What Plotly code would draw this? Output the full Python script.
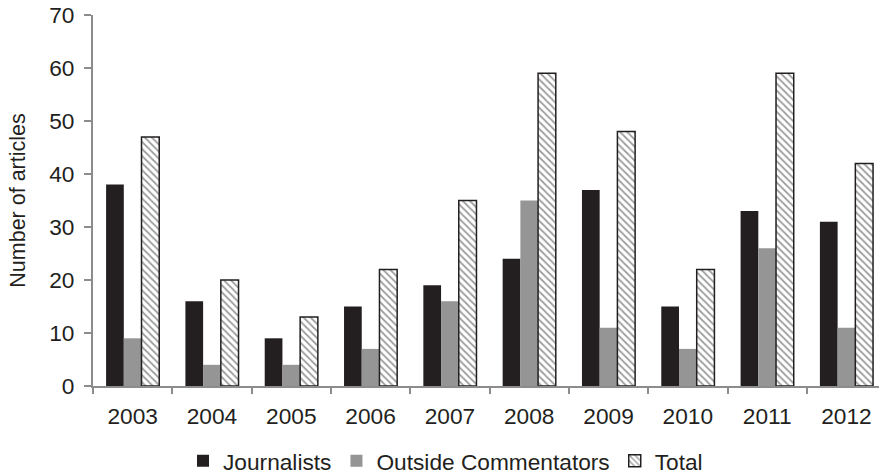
import plotly.graph_objects as go

years = ["2003", "2004", "2005", "2006", "2007", "2008", "2009", "2010", "2011", "2012"]
journalists = [38, 16, 9, 15, 19, 24, 37, 15, 33, 31]
outside = [9, 4, 4, 7, 16, 35, 11, 7, 26, 11]
total = [47, 20, 13, 22, 35, 59, 48, 22, 59, 42]

FONT = "Liberation Sans, Arial, sans-serif"
TXT = "#231f20"
AX = "#8c8c8c"
FS = 22.7

fig = go.Figure()
fig.add_trace(go.Bar(x=years, y=journalists, name="Journalists",
                     marker=dict(color="#231f20", line=dict(width=0))))
fig.add_trace(go.Bar(x=years, y=outside, name="Outside Commentators",
                     marker=dict(color="#959595", line=dict(width=0))))
fig.add_trace(go.Bar(x=years, y=total, name="Total",
                     marker=dict(color="white",
                                 line=dict(color="#231f20", width=1.5),
                                 pattern=dict(shape="\\", fgcolor="#3a3a3a", bgcolor="white",
                                              size=5, solidity=0.35))))

fig.update_layout(
    width=879, height=476,
    margin=dict(l=93, r=0, t=15, b=90, autoexpand=False),
    paper_bgcolor="white", plot_bgcolor="white",
    barmode="group", bargap=0.33, bargroupgap=0,
    font=dict(family=FONT, size=FS, color=TXT),
    showlegend=True,
    legend=dict(orientation="h", x=0.1145, xanchor="left", y=-0.202, yanchor="middle",
                font=dict(size=FS, color=TXT), itemwidth=30, tracegroupgap=0),
    xaxis=dict(range=[-0.5, 9.41], showline=True, linecolor=AX, linewidth=2,
               ticks="outside", tickson="boundaries", ticklen=6, tickcolor=AX, tickwidth=1.5,
               ticklabelstandoff=9,
               tickfont=dict(size=FS, color=TXT), showgrid=False, zeroline=False),
    yaxis=dict(range=[0, 70], dtick=10, showline=True, linecolor=AX, linewidth=2,
               ticks="outside", ticklen=7, tickcolor=AX, tickwidth=1.5,
               ticklabelstandoff=5,
               tickfont=dict(size=FS, color=TXT), showgrid=False, zeroline=False,
               title=dict(text="Number of articles", font=dict(size=21.5, color=TXT), standoff=18)),
)

fig.write_html("out.html")
